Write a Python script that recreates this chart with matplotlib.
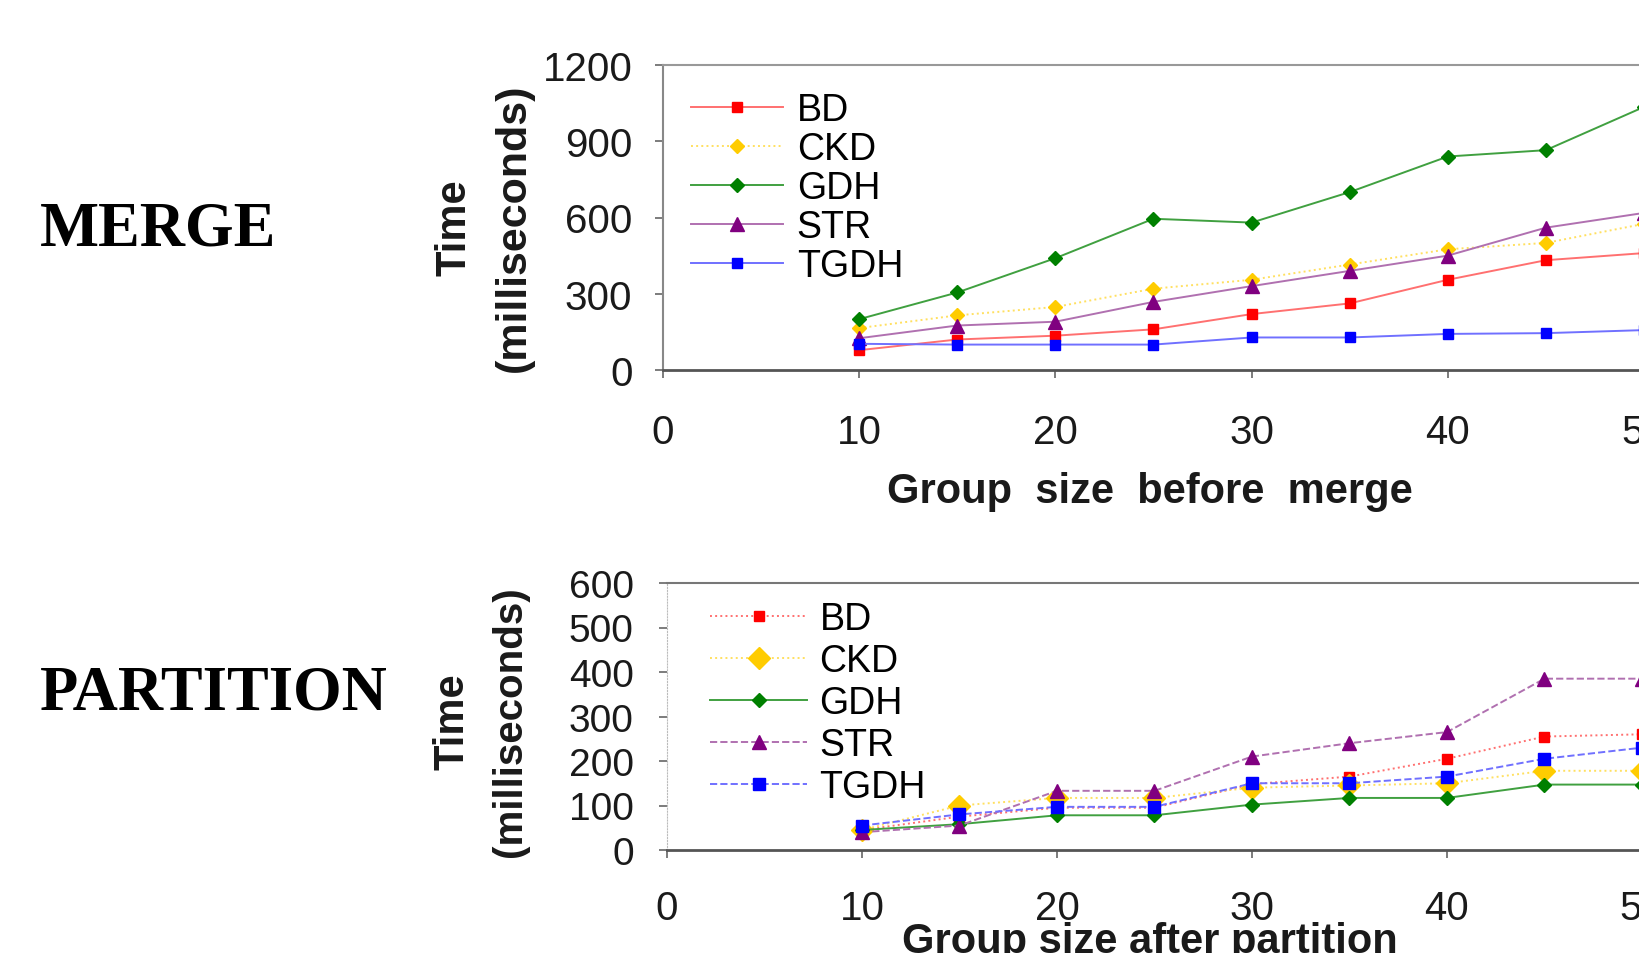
import numpy as np
import matplotlib as mpl
mpl.use('Agg')
import matplotlib.pyplot as plt

W, H = 1640, 954

# group sizes
sizes = [10, 15, 20, 25, 30, 35, 40, 45, 50]
names = ['BD', 'CKD', 'GDH', 'STR', 'TGDH']

# MERGE (ms)
merge_bd = [78, 120, 135, 160, 220, 262, 355, 432, 460]
merge_ckd = [165, 215, 248, 320, 355, 415, 475, 500, 575]
merge_gdh = [200, 305, 440, 595, 580, 700, 840, 865, 1035]
merge_str = [125, 175, 190, 268, 330, 390, 450, 560, 618]
merge_tgdh = [103, 100, 100, 100, 128, 128, 142, 145, 157]

# PARTITION (ms)
part_bd = [45, 75, 95, 95, 148, 165, 205, 255, 260]
part_ckd = [45, 100, 117, 117, 140, 145, 150, 178, 178]
part_gdh = [45, 58, 78, 78, 102, 117, 117, 147, 147]
part_str = [40, 55, 133, 133, 210, 240, 265, 385, 385]
part_tgdh = [55, 80, 97, 97, 150, 150, 165, 205, 230]

merge_ticks = [0, 300, 600, 900, 1200]
part_ticks = [0, 100, 200, 300, 400, 500, 600]
x_ticks = [0, 10, 20, 30, 40, 50]

mcol = ['#FF0000', '#FFCC00', '#008000', '#800080', '#0000FF']
lcol = ['#FF7070', '#FFE060', '#40A040', '#B070B0', '#7070FF']
marks = ['s', 'D', 'D', '^', 's']
top_ls = ['-', ':', '-', '-', '-']
bot_ls = [':', ':', '-', '--', '--']
top_ms = [7, 7.5, 7.5, 10, 7]
bot_ms = [7.5, 11, 7, 10, 8]

sans = 'Liberation Sans'
txt = '#1a1a1a'


def px_axes(left, zero_y, top_y, per_unit, xmax):
    # axes placed from pixel measurements, extends past right edge
    return fig.add_axes([left / W, (H - zero_y) / H,
                         per_unit * xmax / W, (zero_y - top_y) / H])


def style_axes(ax, ymax, yticks, xpad, ypad, ysize):
    ax.set_xlim(0, 52)
    ax.set_ylim(0, ymax)
    ax.set_xticks(x_ticks)
    ax.set_yticks(yticks)
    for lab in ax.get_xticklabels() + ax.get_yticklabels():
        lab.set_family(sans)
        lab.set_color(txt)
    ax.tick_params(axis='both', direction='out', length=6, width=1.2,
                   color='#666666')
    ax.tick_params(axis='x', pad=xpad, labelsize=29)
    ax.tick_params(axis='y', pad=ypad, labelsize=ysize)
    ax.spines['right'].set_visible(False)
    ax.spines['top'].set_color('#999999')
    ax.spines['top'].set_linewidth(1.5)
    ax.spines['bottom'].set_color('#555555')
    ax.spines['bottom'].set_linewidth(2)
    ax.patch.set_alpha(0)


fig = plt.figure(figsize=(W / 100, H / 100), dpi=100)

# MERGE panel
ax1 = px_axes(663, 371, 66, 19.62, 52)
series = [merge_bd, merge_ckd, merge_gdh, merge_str, merge_tgdh]
for i in range(5):
    ax1.plot(sizes, series[i], color=lcol[i], ls=top_ls[i], lw=1.4,
             marker=marks[i], ms=top_ms[i], mfc=mcol[i], mec=mcol[i],
             label=names[i], clip_on=True)
style_axes(ax1, 1200, merge_ticks, 25, 16, 29)
ax1.spines['left'].set_color('#888888')
ax1.spines['left'].set_linewidth(1.5)
ax1.legend(loc='upper left', bbox_to_anchor=(691 / W, 1 - 93 / H),
           bbox_transform=fig.transFigure, frameon=False, borderpad=0,
           borderaxespad=0, handlelength=2.45, handletextpad=0.37,
           labelspacing=0.08, prop={'family': sans, 'size': 27})

# PARTITION panel
ax2 = px_axes(667, 851, 584, 19.5, 52)
series = [part_bd, part_ckd, part_gdh, part_str, part_tgdh]
for i in range(5):
    ax2.plot(sizes, series[i], color=lcol[i], ls=bot_ls[i], lw=1.4,
             marker=marks[i], ms=bot_ms[i], mfc=mcol[i], mec=mcol[i],
             label=names[i], clip_on=True)
style_axes(ax2, 600, part_ticks, 22, 18, 28)
ax2.spines['top'].set_color('#777777')
ax2.spines['left'].set_color('#bbbbbb')
ax2.spines['left'].set_linestyle(':')
ax2.legend(loc='upper left', bbox_to_anchor=(710 / W, 1 - 602 / H),
           bbox_transform=fig.transFigure, frameon=False, borderpad=0,
           borderaxespad=0, handlelength=2.6, handletextpad=0.32,
           labelspacing=0.16, prop={'family': sans, 'size': 27})

# axis labels
fig.text(454 / W, 1 - 228 / H, 'Time', rotation=90, ha='center', va='center',
         family=sans, weight='bold', size=30, color=txt)
fig.text(514 / W, 1 - 228 / H, '(milliseconds)', rotation=90, ha='center',
         va='center', family=sans, weight='bold', size=31, color=txt)
fig.text(453 / W, 1 - 722 / H, 'Time', rotation=90, ha='center', va='center',
         family=sans, weight='bold', size=30, color=txt)
fig.text(510 / W, 1 - 722 / H, '(milliseconds)', rotation=90, ha='center',
         va='center', family=sans, weight='bold', size=29, color=txt)
fig.text(1150 / W, 1 - 492 / H, 'Group  size  before  merge', ha='center',
         va='center', family=sans, weight='bold', size=30, color=txt)
fig.text(1150 / W, 1 - 942 / H, 'Group size after partition', ha='center',
         va='center', family=sans, weight='bold', size=30, color=txt)

# row titles
fig.text(40 / W, 1 - 230 / H, 'MERGE', ha='left', va='center',
         family='Liberation Serif', weight='bold', size=45, color='black')
fig.text(40 / W, 1 - 695 / H, 'PARTITION', ha='left', va='center',
         family='Liberation Serif', weight='bold', size=45, color='black')

plt.savefig('out.png', dpi=100)
